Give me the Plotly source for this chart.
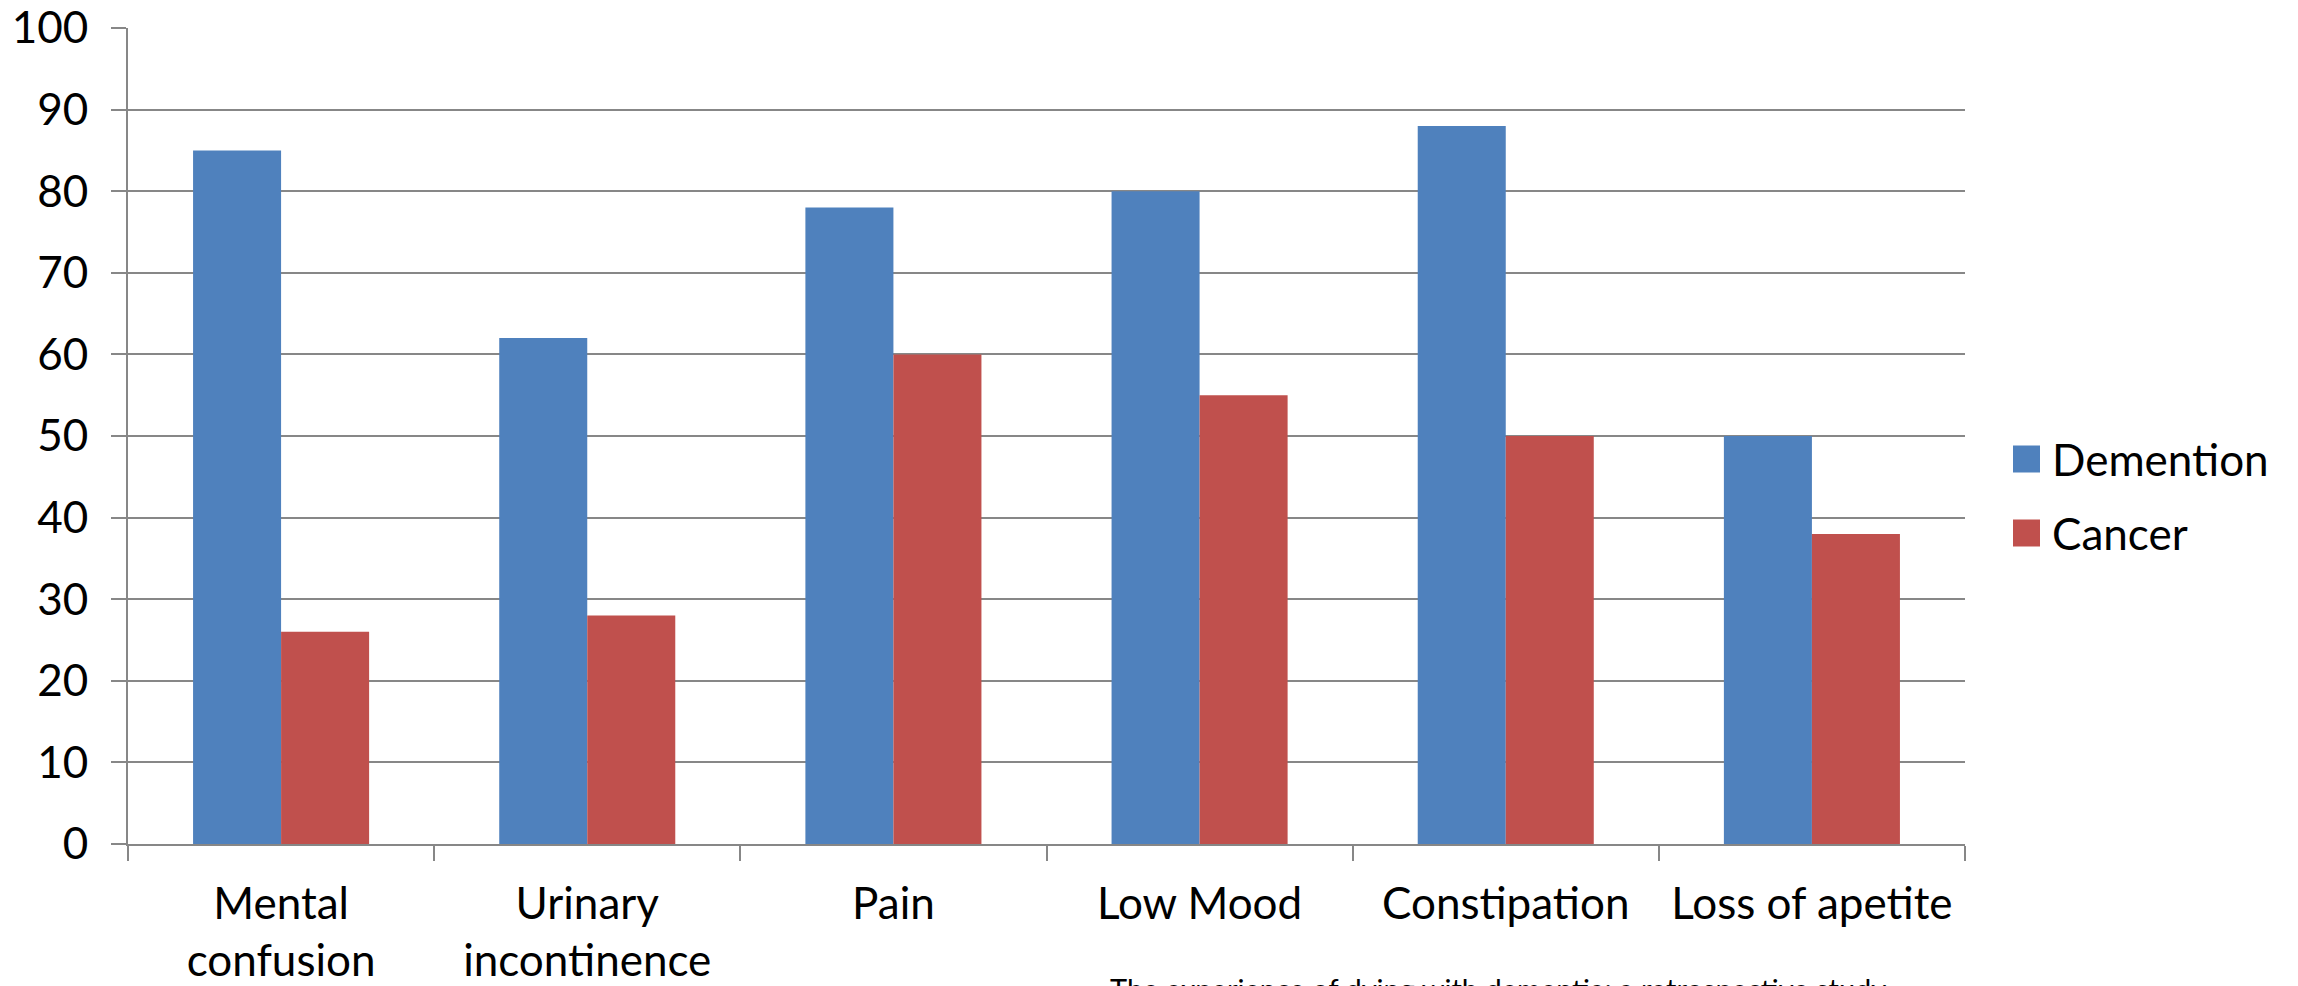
import plotly.graph_objects as go

categories = ["Mental<br>confusion", "Urinary<br>incontinence", "Pain", "Low Mood", "Constipation", "Loss of apetite"]
series_names = ["Demention", "Cancer"]
demention = [85, 62, 78, 80, 88, 50]
cancer = [26, 28, 60, 55, 50, 38]
y_ticks = [0, 10, 20, 30, 40, 50, 60, 70, 80, 90, 100]
caption = "The experience of dying with dementia: a retrospective study"

colors = ["#4F81BD", "#C0504D"]
FONT = "Lato"
W, H = 2298, 986
OFF = 8  # page body margin in the browser
L, R, T, B = 128 - OFF, 333 + OFF, 28 - OFF, 142 + OFF
pw, ph = W - L - R, H - T - B

def px(x):
    # x in screen pixels -> paper coords
    return (x - OFF - L) / pw

def py(y):
    return (H - B - (y - OFF)) / ph

fig = go.Figure()
for name, vals, col in zip(series_names, [demention, cancer], colors):
    fig.add_trace(go.Bar(x=categories, y=vals, name=name, marker_color=col,
                         marker_line_width=0, showlegend=False, cliponaxis=False))

# manual legend (larger square symbols like the reference)
shapes = []
annotations = []
legend_rows = [459, 533]
for name, col, yc in zip(series_names, colors, legend_rows):
    shapes.append(dict(type="rect", xref="paper", yref="paper",
                       x0=px(2013), x1=px(2040), y0=py(yc + 13.5), y1=py(yc - 13.5),
                       fillcolor=col, line_width=0))
    annotations.append(dict(text=name, xref="paper", yref="paper", x=px(2050), y=py(yc),
                            xanchor="left", yanchor="middle", showarrow=False,
                            font=dict(family=FONT, size=44, color="black")))

annotations.append(dict(text=caption, xref="paper", yref="paper", x=px(1108), y=py(969),
                        xanchor="left", yanchor="top", showarrow=False,
                        font=dict(family=FONT, size=29, color="black")))

fig.update_layout(
    width=W, height=H,
    margin=dict(l=L, r=R, t=T, b=B, autoexpand=False),
    plot_bgcolor="white", paper_bgcolor="white",
    barmode="group", bargap=0.425, bargroupgap=0,
    font=dict(family=FONT, color="black"),
    shapes=shapes, annotations=annotations,
    xaxis=dict(showline=True, linecolor="#878787", linewidth=2,
               ticks="outside", tickson="boundaries", ticklen=15, tickwidth=2,
               tickcolor="#878787", showgrid=False, ticklabelstandoff=20,
               ticklabeloverflow="allow",
               tickfont=dict(family=FONT, size=44, color="black")),
    yaxis=dict(range=[0, 100], tickvals=y_ticks, showline=True, linecolor="#878787",
               linewidth=2, ticks="outside", ticklen=15, tickwidth=2, tickcolor="#878787",
               showgrid=True, gridcolor="#878787", gridwidth=2, zeroline=False,
               ticklabelstandoff=14, ticklabeloverflow="allow",
               tickfont=dict(family=FONT, size=44, color="black")),
)

fig.write_html("out.html")
